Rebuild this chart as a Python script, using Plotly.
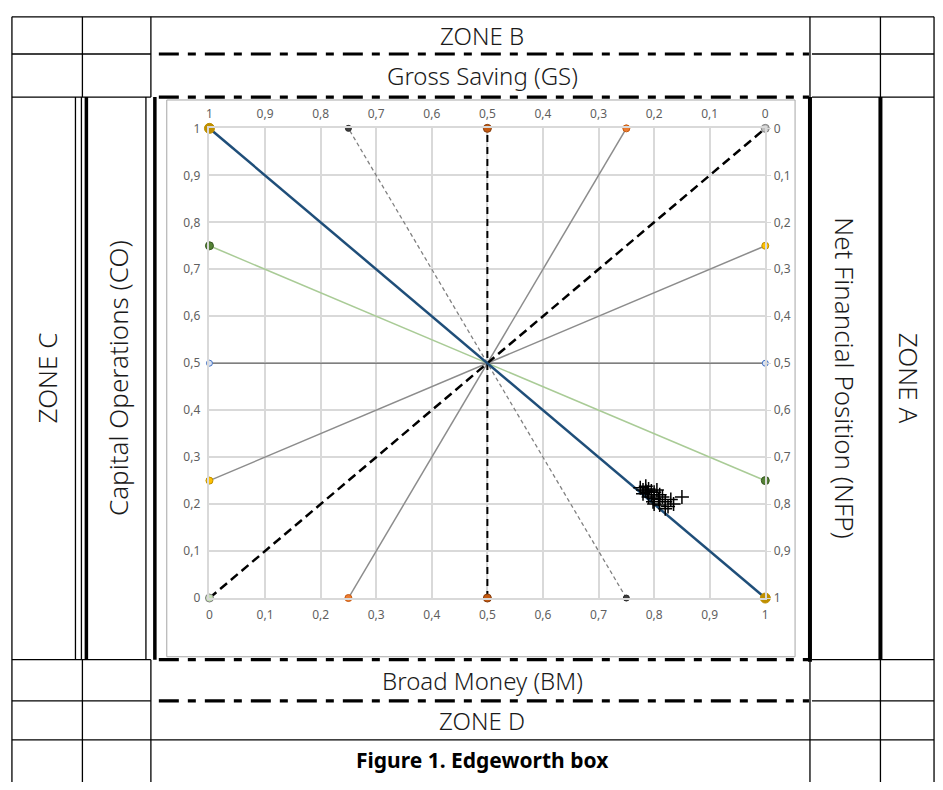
import plotly.graph_objects as go

W, H = 943, 790

# axis ticks (decimal comma as in the original)
tick_vals = [0, 0.1, 0.2, 0.3, 0.4, 0.5, 0.6, 0.7, 0.8, 0.9, 1]
tick_text = ["0", "0,1", "0,2", "0,3", "0,4", "0,5", "0,6", "0,7", "0,8", "0,9", "1"]

# reference rays of the Edgeworth box
contract_x = [0, 1]
contract_y = [1, 0]
diag_x = [0, 1]
diag_y = [0, 1]
vert_x = [0.5, 0.5]
vert_y = [0, 1]
horiz_x = [0, 1]
horiz_y = [0.5, 0.5]
green_x = [0, 1]
green_y = [0.75, 0.25]
yellow_x = [0, 1]
yellow_y = [0.25, 0.75]
orange_x = [0.25, 0.75]
orange_y = [0, 1]
dotted_x = [0.75, 0.25]
dotted_y = [0, 1]

# observations (crosses)
obs_x = [0.775, 0.78, 0.785, 0.79, 0.795, 0.78, 0.788, 0.795, 0.80, 0.805, 0.79, 0.80,
         0.81, 0.785, 0.798, 0.808, 0.815, 0.80, 0.81, 0.82, 0.825, 0.83, 0.82, 0.835, 0.85]
obs_y = [0.235, 0.23, 0.238, 0.232, 0.228, 0.222, 0.225, 0.22, 0.225, 0.23, 0.215, 0.212,
         0.22, 0.228, 0.205, 0.21, 0.215, 0.2, 0.198, 0.205, 0.195, 0.21, 0.19, 0.2, 0.215]

# table texts
zone_top = "ZONE B"
label_top = "Gross Saving (GS)"
label_bottom = "Broad Money (BM)"
zone_bottom = "ZONE D"
zone_left = "ZONE C"
label_left = "Capital Operations (CO)"
label_right = "Net Financial Position (NFP)"
zone_right = "ZONE A"
caption = "Figure 1. Edgeworth box"


def px(x):
    return x / W


def py(y):
    return 1 - y / H


fig = go.Figure()


def add_ray(x, y, color, width, dash, mcolor, msize, mline):
    fig.add_trace(go.Scatter(
        x=x, y=y, mode="lines+markers",
        line=dict(color=color, width=width, dash=dash),
        marker=dict(color=mcolor, size=msize, line=dict(color=mline, width=1)),
        cliponaxis=False, hoverinfo="skip", showlegend=False))


add_ray(horiz_x, horiz_y, "#7f7f7f", 1.5, "solid", "#dae3f3", 6, "#4472c4")
add_ray(yellow_x, yellow_y, "#8c8c8c", 1.5, "solid", "#ffc000", 7, "#bf9000")
add_ray(orange_x, orange_y, "#8c8c8c", 1.5, "solid", "#ed7d31", 7, "#c55a11")
add_ray(green_x, green_y, "#a9cb96", 1.5, "solid", "#548235", 8, "#385723")
add_ray(dotted_x, dotted_y, "#808080", 1.3, "4px,3px", "#404040", 6, "#262626")
add_ray(vert_x, vert_y, "#000000", 2, "7px,5px", "#c55a11", 8, "#843c0c")
add_ray(diag_x, diag_y, "#000000", 2.5, "9px,5px", ["#c5e0b4", "#bfbfbf"], 8, "#7f7f7f")
add_ray(contract_x, contract_y, "#1f4e79", 2.5, "solid", "#bf8f00", 10, "#bf8f00")

fig.add_trace(go.Scatter(
    x=obs_x, y=obs_y, mode="markers",
    marker=dict(symbol="cross-thin-open", size=10, color="#000000", line=dict(color="#000000", width=1.5)),
    hoverinfo="skip", showlegend=False))

# invisible trace so the secondary (reversed) axes are drawn
fig.add_trace(go.Scatter(x=[0.5], y=[0.5], xaxis="x2", yaxis="y2", mode="markers",
                         marker=dict(opacity=0), hoverinfo="skip", showlegend=False))

tick_font = dict(family="Noto Sans", size=12, color="#5f5f5f")
axis_common = dict(tickmode="array", tickvals=tick_vals, ticktext=tick_text,
                   tickfont=tick_font, zeroline=False, ticks="outside", ticklen=5,
                   tickcolor="rgba(0,0,0,0)", fixedrange=True)

fig.update_layout(
    width=W, height=H,
    margin=dict(l=0, r=0, t=0, b=0),
    paper_bgcolor="white", plot_bgcolor="white",
    xaxis=dict(domain=[px(208), px(768)], range=[0, 1], showgrid=True, gridcolor="#d9d9d9",
               gridwidth=1.5, showline=True, linecolor="#d9d9d9", linewidth=1.5, mirror=True,
               anchor="y", **axis_common),
    yaxis=dict(domain=[py(602), py(122)], range=[0, 1], showgrid=True, gridcolor="#d9d9d9",
               gridwidth=1.5, showline=True, linecolor="#d9d9d9", linewidth=1.5, mirror=True,
               anchor="x", **axis_common),
    xaxis2=dict(overlaying="x", side="top", range=[1, 0], showgrid=False, anchor="y",
                **axis_common),
    yaxis2=dict(overlaying="y", side="right", range=[1, 0], showgrid=False, anchor="x",
                **{**axis_common, "tickcolor": "#d9d9d9"}),
)

# ---- table frame drawn in pixel space ----
shapes = []


def hline(x0, x1, y, width=1.3, dash="solid"):
    shapes.append(dict(type="line", xref="paper", yref="paper", x0=px(x0), x1=px(x1),
                       y0=py(y), y1=py(y), line=dict(color="black", width=width, dash=dash)))


def vline(x, y0, y1, width=1.3, color="black"):
    shapes.append(dict(type="line", xref="paper", yref="paper", x0=px(x), x1=px(x),
                       y0=py(y0), y1=py(y1), line=dict(color=color, width=width)))


top, mid_top, frame_top, frame_bot, mid_bot, cap_top = 8, 46, 90, 665, 707, 747
dashdot = "20px,9px,8px,9px"
hline(9, 938, top)
for y in (mid_top, frame_top, frame_bot, mid_bot):
    hline(9, 149, y)
    hline(815, 938, y)
    hline(157, 812, y, width=3.2, dash=dashdot)
hline(9, 938, cap_top)

vline(9, top, 790)
vline(938, top, 790)
for x in (80, 149, 813, 884):
    vline(x, top, frame_top)
    vline(x, frame_bot, 790)
vline(73, frame_top, frame_bot)
vline(79, frame_top, frame_bot)
vline(84, frame_top, frame_bot, width=3.5)
vline(144, frame_top, frame_bot)
vline(153, frame_top, frame_bot, width=3.5)
vline(813, frame_top, frame_bot + 2, width=4)
vline(884, frame_top, frame_bot, width=4)

# frame of the embedded chart picture
shapes.append(dict(type="rect", xref="paper", yref="paper", x0=px(165), x1=px(798),
                   y0=py(662), y1=py(93), line=dict(color="#a6a6a6", width=1)))
fig.update_layout(shapes=shapes)

# ---- texts ----
text_font = dict(family="Noto Sans", size=24, color="#1a1a1a", weight=300)
side_font = dict(family="Noto Sans", size=26, color="#1a1a1a", weight=300)


def note(text, x, y, font, angle=0):
    fig.add_annotation(text=text, x=px(x), y=py(y), xref="paper", yref="paper",
                       showarrow=False, font=font, textangle=angle,
                       xanchor="center", yanchor="middle")


note(zone_top, 483, 27, text_font)
note(label_top, 483, 68, text_font)
note(label_bottom, 483, 686, text_font)
note(zone_bottom, 483, 727, text_font)
note(zone_left, 44, 377, side_font, -90)
note(label_left, 116, 377, side_font, -90)
note(label_right, 848, 377, side_font, 90)
note(zone_right, 913, 377, side_font, 90)
note(caption, 483, 768, dict(family="Noto Sans", size=21, color="#000000", weight="bold"))

# pin the figure to the window corner (no default page margin)
fig.write_html(
    "out.html",
    config={"displayModeBar": False},
    post_script=("document.body.style.margin='0';document.body.style.overflow='hidden';"
                 "var d=document.getElementById('{plot_id}');"
                 "d.style.position='fixed';d.style.left='0';d.style.top='0';"),
)
